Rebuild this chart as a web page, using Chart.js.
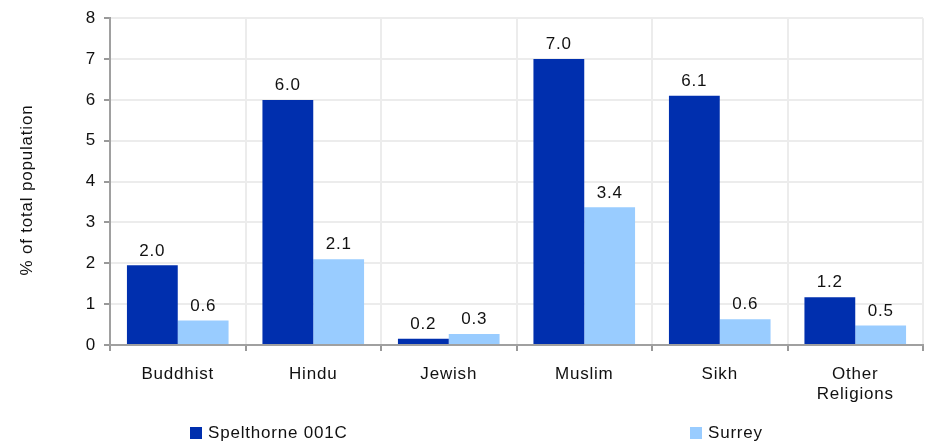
<!DOCTYPE html>
<html>
<head>
<meta charset="utf-8">
<script src="https://cdn.jsdelivr.net/npm/chart.js@4"></script>
<style>
  body { margin: 0; background: #fff; }
  #wrap { width: 928px; height: 445px; }
</style>
</head>
<body>
<div id="wrap"><canvas id="myChart" width="928" height="445"></canvas></div>
<script>
// chart data
var categories = ['Buddhist', 'Hindu', 'Jewish', 'Muslim', 'Sikh', ['Other', 'Religions']]
var spelthorne = [1.95, 6.0, 0.15, 7.0, 6.1, 1.17]
var surrey = [0.6, 2.1, 0.27, 3.37, 0.63, 0.48]
var spelthorneLabels = ['2.0', '6.0', '0.2', '7.0', '6.1', '1.2']
var surreyLabels = ['0.6', '2.1', '0.3', '3.4', '0.6', '0.5']
var yTicks = [0, 1, 2, 3, 4, 5, 6, 7, 8]
var yTitle = '% of total population'

var font = 'Liberation Sans, Arial, sans-serif'
var spacing = '0.8px'

// the original text is a little wider than Arial
var wideText = {
    id: 'wideText',
    beforeUpdate(chart) { chart.ctx.letterSpacing = spacing },
    beforeDraw(chart) { chart.ctx.letterSpacing = spacing }
}

// value labels above bars
var barLabels = {
    id: 'barLabels',
    afterDatasetsDraw(chart) {
        var ctx = chart.ctx
        var lbls = [spelthorneLabels, surreyLabels]
        ctx.save()
        ctx.font = '17px ' + font
        ctx.fillStyle = '#111'
        ctx.textAlign = 'center'
        ctx.textBaseline = 'bottom'
        chart.data.datasets.forEach((ds, i) => {
            chart.getDatasetMeta(i).data.forEach((bar, j) => {
                ctx.fillText(lbls[i][j], bar.x, bar.y - 6)
            })
        })
        ctx.restore()
    }
}

// y title and legend drawn by hand to sit where the original has them
var extras = {
    id: 'extras',
    afterDraw(chart) {
        var ctx = chart.ctx
        ctx.save()
        ctx.font = '17px ' + font
        ctx.fillStyle = '#111'
        ctx.translate(27, 190)
        ctx.rotate(-Math.PI / 2)
        ctx.textAlign = 'center'
        ctx.textBaseline = 'middle'
        ctx.fillText(yTitle, 0, 0)
        ctx.restore()

        var xs = [190, 690]
        ctx.save()
        ctx.font = '17px ' + font
        ctx.textBaseline = 'middle'
        chart.data.datasets.forEach((ds, i) => {
            ctx.fillStyle = ds.backgroundColor
            ctx.fillRect(xs[i], 427, 12, 12)
            ctx.fillStyle = '#111'
            ctx.fillText(ds.label, xs[i] + 18, 433)
        })
        ctx.restore()
    }
}

var ctx = document.getElementById('myChart').getContext('2d')
var myChart = new Chart(ctx, {
    type: 'bar',
    data: {
        labels: categories,
        datasets: [{
            label: 'Spelthorne 001C',
            data: spelthorne,
            backgroundColor: '#002fae',
            categoryPercentage: 0.75,
            barPercentage: 1
        }, {
            label: 'Surrey',
            data: surrey,
            backgroundColor: '#99ccff',
            categoryPercentage: 0.75,
            barPercentage: 1
        }]
    },
    options: {
        responsive: false,
        animation: false,
        layout: { padding: { top: 15, right: 5, left: 0, bottom: 0 } },
        plugins: {
            legend: { display: false },
            tooltip: { enabled: false }
        },
        scales: {
            x: {
                afterFit: (s) => { s.height = 100 },
                grid: { color: '#ececec', lineWidth: 2, tickColor: '#999', tickLength: 6, offset: true },
                border: { color: '#a0a0a0', width: 2 },
                ticks: { color: '#111', font: { family: font, size: 17, lineHeight: 1.2 }, padding: 13, maxRotation: 0 }
            },
            y: {
                min: 0,
                max: 8,
                afterFit: (s) => { s.width = 110 },
                afterBuildTicks: (s) => { s.ticks = yTicks.map(v => ({ value: v })) },
                grid: { color: '#ececec', lineWidth: 2, tickColor: '#999', tickLength: 6 },
                border: { color: '#a0a0a0', width: 2 },
                ticks: { color: '#111', font: { family: font, size: 17 }, padding: 8 }
            }
        }
    },
    plugins: [wideText, barLabels, extras]
})
</script>
</body>
</html>
